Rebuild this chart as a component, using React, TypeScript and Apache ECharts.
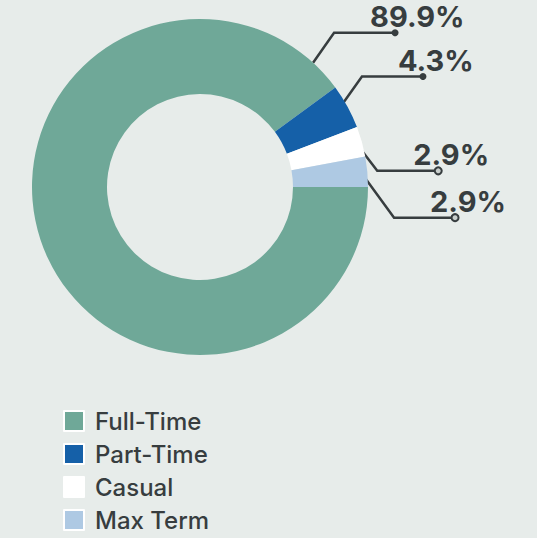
import React, { useEffect, useRef } from "react";
import * as echarts from "echarts";

const categories = ["Full-Time", "Part-Time", "Casual", "Max Term"];
const values = [89.9, 4.3, 2.9, 2.9];
const colors = ["#6fa898", "#1560a8", "#ffffff", "#aec9e3"];

const BG = "#e7ecea";
const INK = "#373d3f";
const CX = 200;
const CY = 187;
const R_OUT = 168;
const R_IN = 93;
const START_ANGLE = 0;

// label-line layout: anchor angle override, inset, first leg, horizontal leg
const anchorOverride: (number | null)[] = [47.7, null, null, null];
const anchorInset = [0, 7, 7, 8];
const legs = [
  [21, -30],
  [22, -31],
  [23, 30],
  [35, 48],
];
const LEG2 = 61;
const hollowDot = [false, false, true, true];

function geometry(i: number) {
  const sum = values.reduce((a, b) => a + b, 0);
  let before = 0;
  for (let k = 0; k < i; k++) before += values[k];
  const a0 = START_ANGLE - (before / sum) * 360;
  const a1 = a0 - (values[i] / sum) * 360;
  let mid = (a0 + a1) / 2 + 1;
  const override = anchorOverride[i];
  if (override !== null) mid = override;
  const rad = (mid * Math.PI) / 180;
  const r = R_OUT - anchorInset[i];
  const sx = CX + r * Math.cos(rad);
  const sy = CY - r * Math.sin(rad);
  const bx = sx + legs[i][0];
  const by = sy + legs[i][1];
  const ex = bx + LEG2;
  const ey = by;
  return { sx, sy, bx, by, ex, ey };
}

export default function App() {
  const ref = useRef<HTMLDivElement>(null);
  useEffect(() => {
    if (!ref.current) return;
    const chart = echarts.init(ref.current, null, { renderer: "svg" });
    const dots = categories.map((_, i) => {
      const g = geometry(i);
      return {
        type: "circle",
        shape: { cx: g.ex, cy: g.ey, r: 3.5 },
        style: hollowDot[i]
          ? { fill: "#c9cfcd", stroke: INK, lineWidth: 2 }
          : { fill: INK },
        z: 10,
      };
    });
    chart.setOption({
      animation: false,
      backgroundColor: BG,
      legend: {
        orient: "vertical",
        left: 63,
        top: 409,
        height: 150,
        padding: 0,
        itemWidth: 20,
        itemHeight: 20,
        itemGap: 9,
        icon: "rect",
        data: categories,
        itemStyle: { borderColor: "#ffffff", borderWidth: 2 },
        textStyle: {
          fontFamily: "Inter",
          fontSize: 24,
          fontWeight: 500,
          color: INK,
          padding: [0, 0, 0, 6],
        },
        selectedMode: false,
      },
      graphic: dots,
      series: [
        {
          type: "pie",
          center: [CX, CY],
          radius: [R_IN, R_OUT],
          startAngle: START_ANGLE,
          clockwise: true,
          silent: true,
          avoidLabelOverlap: false,
          data: categories.map((name, i) => ({
            name,
            value: values[i],
            itemStyle: { color: colors[i] },
          })),
          label: {
            show: true,
            position: "outside",
            formatter: (p: any) => `${p.value}%`,
            fontFamily: "Inter",
            fontWeight: 700,
            fontSize: 29,
            lineHeight: 28,
            color: INK,
          },
          labelLine: {
            show: true,
            lineStyle: { color: INK, width: 2.5 },
          },
          labelLayout: (params: any) => {
            const g = geometry(params.dataIndex);
            return {
              x: g.ex - 25,
              y: g.ey - 16,
              align: "left",
              verticalAlign: "middle",
              labelLinePoints: [
                [g.sx, g.sy],
                [g.bx, g.by],
                [g.ex, g.ey],
              ],
            };
          },
          emphasis: { disabled: true },
        },
      ],
    });
    return () => chart.dispose();
  }, []);
  return (
    <div
      ref={ref}
      style={{ position: "fixed", left: 0, top: 0, width: 537, height: 538 }}
    />
  );
}
